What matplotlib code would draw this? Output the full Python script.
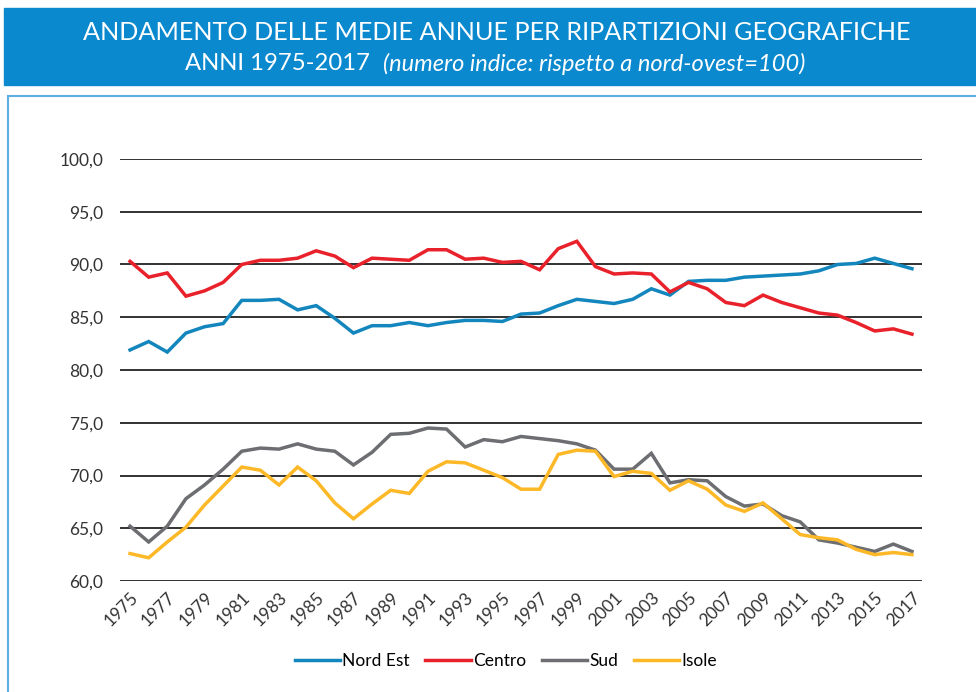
import numpy as np
import matplotlib.pyplot as plt
from matplotlib.patches import Rectangle
from matplotlib.ticker import FuncFormatter

plt.rcParams['font.family'] = ['Lato', 'DejaVu Sans']

anni = list(range(1975, 2018))

nord_est = [81.9, 82.7, 81.7, 83.5, 84.1, 84.4, 86.6, 86.6, 86.7, 85.7,
            86.1, 84.9, 83.5, 84.2, 84.2, 84.5, 84.2, 84.5, 84.7, 84.7,
            84.6, 85.3, 85.4, 86.1, 86.7, 86.5, 86.3, 86.7, 87.7, 87.1,
            88.4, 88.5, 88.5, 88.8, 88.9, 89.0, 89.1, 89.4, 90.0, 90.1,
            90.6, 90.1, 89.6]
centro = [90.3, 88.8, 89.2, 87.0, 87.5, 88.3, 90.0, 90.4, 90.4, 90.6,
          91.3, 90.8, 89.7, 90.6, 90.5, 90.4, 91.4, 91.4, 90.5, 90.6,
          90.2, 90.3, 89.5, 91.5, 92.2, 89.8, 89.1, 89.2, 89.1, 87.4,
          88.3, 87.7, 86.4, 86.1, 87.1, 86.4, 85.9, 85.4, 85.2, 84.5,
          83.7, 83.9, 83.4]
sud = [65.2, 63.7, 65.2, 67.8, 69.1, 70.6, 72.3, 72.6, 72.5, 73.0,
       72.5, 72.3, 71.0, 72.2, 73.9, 74.0, 74.5, 74.4, 72.7, 73.4,
       73.2, 73.7, 73.5, 73.3, 73.0, 72.4, 70.6, 70.6, 72.1, 69.3,
       69.6, 69.5, 68.0, 67.1, 67.3, 66.2, 65.6, 63.9, 63.6, 63.2,
       62.8, 63.5, 62.8]
isole = [62.6, 62.2, 63.7, 65.1, 67.2, 69.0, 70.8, 70.5, 69.1, 70.8,
         69.5, 67.4, 65.9, 67.3, 68.6, 68.3, 70.4, 71.3, 71.2, 70.5,
         69.8, 68.7, 68.7, 72.0, 72.4, 72.3, 69.9, 70.4, 70.2, 68.6,
         69.5, 68.7, 67.2, 66.6, 67.4, 65.9, 64.4, 64.1, 63.9, 63.0,
         62.5, 62.7, 62.5]

serie = [('Nord Est', nord_est, '#1386bd'),
         ('Centro', centro, '#e8212b'),
         ('Sud', sud, '#6d6e71'),
         ('Isole', isole, '#fdb827')]

fig = plt.figure(figsize=(9.76, 6.92), dpi=100)

# banner titolo
fig.patches.append(Rectangle((4/976, 1-85/692), 972/976, 77/692,
                             transform=fig.transFigure, color='#0a89cf', zorder=0))
fig.text(497/976, 1-32/692, 'ANDAMENTO DELLE MEDIE ANNUE PER RIPARTIZIONI GEOGRAFICHE',
         color='white', fontsize=18.2, ha='center', va='center')
fig.text(370/976, 1-64/692, 'ANNI 1975-2017', color='white', fontsize=17.2,
         ha='right', va='center')
fig.text(383/976, 1-64/692, '(numero indice: rispetto a nord-ovest=100)',
         color='white', fontsize=17, style='italic', ha='left', va='center')

# cornice
fig.patches.append(Rectangle((8/976, -0.05), 1.0, 1-96/692+0.05,
                             transform=fig.transFigure, fill=False,
                             edgecolor='#5db0e2', lw=1.5, zorder=0))

ax = fig.add_axes([120/976, 1-581/692, 802/976, 422/692])
for nome, val, col in serie:
    ax.plot(anni, val, color=col, lw=2.5, label=nome, solid_joinstyle='miter')

ax.set_ylim(60, 100)
ax.set_xlim(1974.46, 2017.54)
ax.set_yticks(np.arange(60, 101, 5))
ax.yaxis.set_major_formatter(FuncFormatter(lambda v, p: f'{v:.1f}'.replace('.', ',')))
ax.set_xticks(anni[::2])
ax.set_xticklabels([str(a) for a in anni[::2]], rotation=45, ha='right',
                   rotation_mode='anchor')
ax.grid(axis='y', color='#222222', lw=1.3)
ax.set_axisbelow(True)
for s in ax.spines.values():
    s.set_visible(False)
ax.tick_params(length=0, labelsize=12.5, colors='#333333')
ax.tick_params(axis='y', pad=12)
ax.tick_params(axis='x', pad=6)

fig.legend(loc='center', bbox_to_anchor=(506/976, 1-661/692), ncol=4,
           frameon=False, fontsize=12.5, handlelength=2.6, handletextpad=0.15,
           columnspacing=0.9)

fig.savefig('out.png', dpi=100)
